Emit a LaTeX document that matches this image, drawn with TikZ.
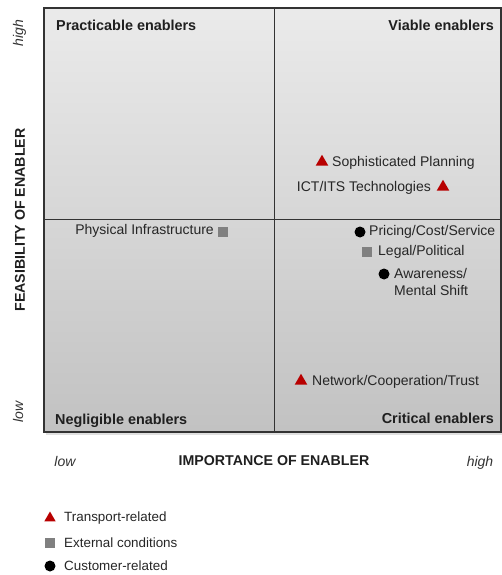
\documentclass[tikz,border=0pt]{standalone}
\usepackage{fontspec}
\setmainfont{Liberation Sans}
\usetikzlibrary{shapes.geometric}
\begin{document}
\begin{tikzpicture}[x=1pt,y=-1pt,
  lbl/.style={font=\fontsize{14}{17}\selectfont, text=black!85, inner sep=0pt},
  leg/.style={font=\fontsize{13.4}{16}\selectfont, text=black!85, inner sep=0pt},
  quad/.style={font=\fontsize{14.4}{17}\selectfont\bfseries, text=black!88, inner sep=0pt},
  axis/.style={font=\fontsize{14.2}{17}\selectfont\bfseries, text=black!88, inner sep=0pt},
  tick/.style={font=\fontsize{14}{17}\selectfont\itshape, text=black!80, inner sep=0pt},
  tri/.style={fill=red!72!black, draw=none, regular polygon, regular polygon sides=3, minimum size=14.5pt, inner sep=0pt},
  sq/.style={fill=black!50, draw=none, minimum size=10.5pt, inner sep=0pt},
  dot/.style={fill=black, draw=none, circle, minimum size=11pt, inner sep=0pt}]
\useasboundingbox (0,0) rectangle (502,575);

% matrix frame with soft shadow and vertical shading
\fill[black!12] (46,10) rectangle (502,435);
\shade[top color=black!8, bottom color=black!24] (44,8) rectangle (501,432);
\draw[black!80, line width=1.3pt] (44,8) rectangle (501,432);
\draw[black!80, line width=1pt] (274,8) -- (274,432);
\draw[black!80, line width=1pt] (44,219) -- (501,219);

% quadrant titles
\node[quad, anchor=west] (qpr) at (56,25) {Practicable enablers};
\node[quad, anchor=east] (qvi) at (494,25) {Viable enablers};
\node[quad, anchor=west] (qne) at (55,421) {Negligible enablers};
\node[quad, anchor=east] (qcr) at (494,418) {Critical enablers};

% axis labels
\node[axis, rotate=90] (yax) at (20,220) {FEASIBILITY OF ENABLER};
\node[tick, rotate=90, anchor=base] (yhi) at (23,33) {high};
\node[tick, rotate=90, anchor=base] (ylo) at (23,412) {low};
\node[axis] (xax) at (274,461) {IMPORTANCE OF ENABLER};
\node[tick, anchor=base] (xlo) at (65,466) {low};
\node[tick, anchor=base] (xhi) at (480,466) {high};

% enablers
\node[tri] (m1) at (322,162) {};
\node[lbl, anchor=west] (t1) at (332,163) {Sophisticated Planning};
\node[lbl, anchor=east] (t2) at (431,188) {ICT/ITS Technologies};
\node[tri] (m2) at (443,187) {};
\node[lbl, anchor=east] (t3) at (214,231) {Physical Infrastructure};
\node[sq] (m3) at (223,232) {};
\node[dot] (m4) at (360,232) {};
\node[lbl, anchor=west] (t4) at (369,232) {Pricing/Cost/Service};
\node[sq] (m5) at (367,252) {};
\node[lbl, anchor=west] (t5) at (378,252) {Legal/Political};
\node[dot] (m6) at (384,274) {};
\node[lbl, anchor=west, align=left] (t6) at (394,282) {Awareness/\\Mental Shift};
\node[tri] (m7) at (301,381) {};
\node[lbl, anchor=west] (t7) at (312,382) {Network/Cooperation/Trust};

% legend
\node[tri, minimum size=13pt] (l1) at (50,518) {};
\node[leg, anchor=west] (lt1) at (64,518) {Transport-related};
\node[sq] (l2) at (50,543) {};
\node[leg, anchor=west] (lt2) at (64,543) {External conditions};
\node[dot] (l3) at (50,566) {};
\node[leg, anchor=west] (lt3) at (64,566) {Customer-related};
\end{tikzpicture}
\end{document}
